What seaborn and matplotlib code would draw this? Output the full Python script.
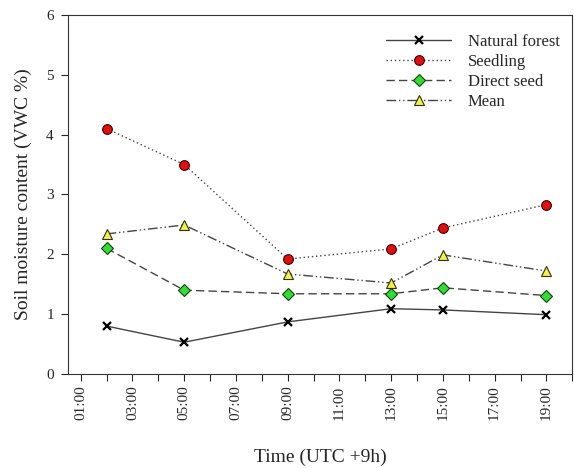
import numpy as np
import pandas as pd
import matplotlib
matplotlib.use("Agg")
import matplotlib.pyplot as plt
import seaborn as sns

# hours of day (UTC +9h) at which soil moisture was sampled
hours = [2, 5, 9, 13, 15, 19]
natural_forest = [0.80, 0.53, 0.87, 1.09, 1.07, 0.99]
seedling = [4.10, 3.50, 1.92, 2.09, 2.44, 2.83]
direct_seed = [2.10, 1.40, 1.34, 1.34, 1.44, 1.31]
mean_vals = [2.34, 2.49, 1.67, 1.52, 1.99, 1.72]

tick_hours = list(range(1, 20, 2))
tick_labels = [f"{h:02d}:00" for h in tick_hours]

sns.set_style("ticks")
plt.rcParams["font.family"] = ["Liberation Serif", "DejaVu Serif"]

fig = plt.figure(figsize=(5.74, 4.68), dpi=100)
ax = fig.add_axes([0.118, 0.201, 0.879, 0.767])

series = [
    ("Natural forest", natural_forest, "-", "x", "black", "black", 6),
    ("Seedling", seedling, (0, (1, 2)), "o", "#e01010", "#400000", 7),
    ("Direct seed", direct_seed, (0, (6, 3)), "D", "#33dd33", "#104010", 6),
    ("Mean", mean_vals, (0, (7, 2, 1, 2, 1, 2)), "^", "#f0f050", "#303000", 7),
]

for name, vals, ls, mk, fc, ec, ms in series:
    df = pd.DataFrame({"hour": hours, "vwc": vals})
    sns.lineplot(data=df, x="hour", y="vwc", ax=ax, label=name,
                 color="#444444", linewidth=1.0, linestyle=ls,
                 marker=mk, markersize=ms, markerfacecolor=fc,
                 markeredgecolor=ec, markeredgewidth=1.6 if mk == "x" else 0.8)

ax.set_xlim(0.5, 20)
ax.set_ylim(0, 6)
ax.set_xticks(tick_hours)
ax.set_xticklabels(tick_labels, rotation=90, fontsize=11)
ax.set_xticks(range(2, 21, 2), minor=True)
ax.tick_params(axis="x", which="both", direction="out", length=5, width=0.8)
ax.set_yticks(range(0, 7))
ax.tick_params(axis="y", labelsize=11, direction="out", length=5, width=0.8, pad=5)
ax.set_xlabel("Time (UTC +9h)", fontsize=14, labelpad=20)
ax.set_ylabel("Soil moisture content (VWC %)", fontsize=14, labelpad=10)
for s in ax.spines.values():
    s.set_linewidth(0.8)
    s.set_color("#333333")

ax.legend(loc="upper right", frameon=False, fontsize=12, handlelength=3.9,
          handletextpad=1.0, labelspacing=0.25, bbox_to_anchor=(1.005, 0.99))

fig.savefig("out.png", dpi=100)
